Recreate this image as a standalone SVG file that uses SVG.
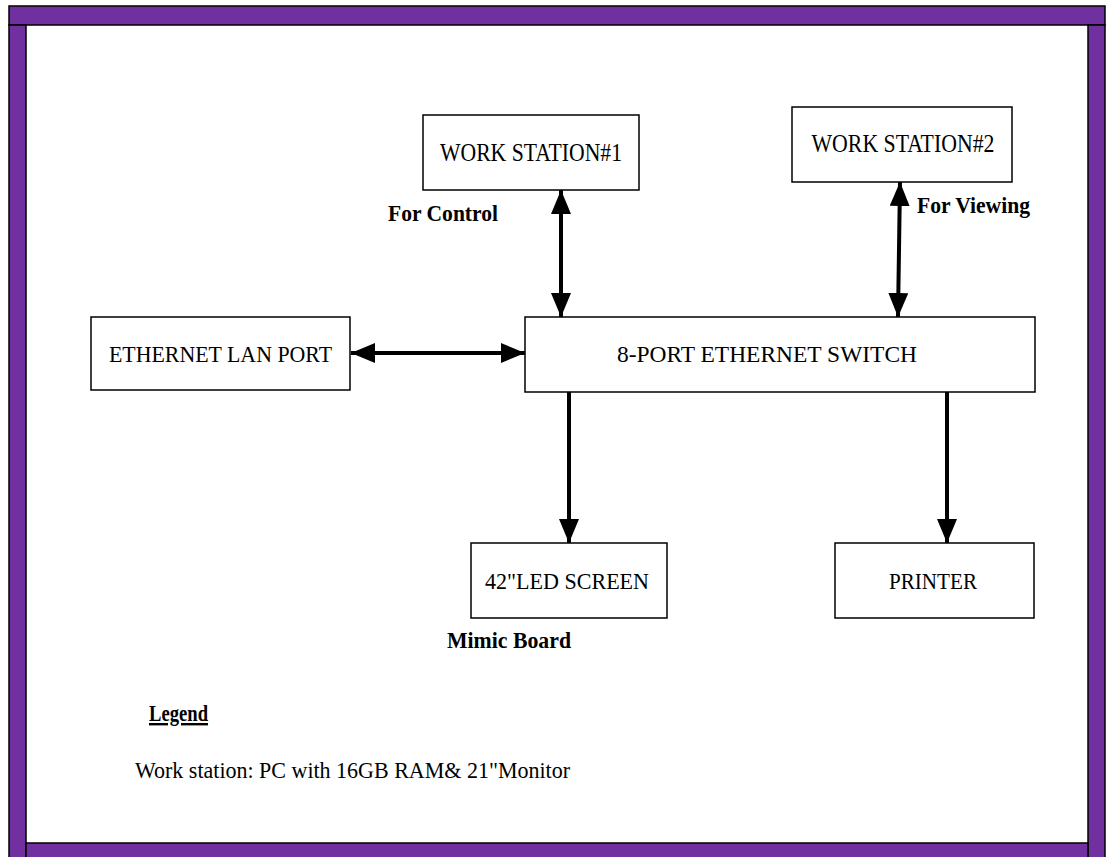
<svg xmlns="http://www.w3.org/2000/svg" width="1111" height="857" viewBox="0 0 1111 857">
  <style>
    .frame { fill: #7030a0; stroke: #000; stroke-width: 1.5; }
    .box { fill: #fff; stroke: #000; stroke-width: 1.5; }
    .label { font-family: "Liberation Serif", "Times New Roman", serif; font-size: 24px; fill: #000; }
    .ws { font-size: 26px; }
    .note { font-family: "Liberation Serif", "Times New Roman", serif; font-size: 24px; font-weight: bold; fill: #000; }
    .link { stroke: #000; stroke-width: 4; fill: none; }
  </style>
  <defs>
    <marker id="head" viewBox="0 0 24 20" refX="24" refY="10" markerWidth="24" markerHeight="20" markerUnits="userSpaceOnUse" orient="auto-start-reverse">
      <path d="M0,0 L24,10 L0,20 Z" fill="#000"/>
    </marker>
  </defs>

  <rect width="1111" height="857" fill="#fff"/>

  <!-- page frame -->
  <g id="frame">
    <rect class="frame" x="9" y="6" width="1096" height="19"/>
    <rect class="frame" x="9" y="25" width="17" height="840"/>
    <rect class="frame" x="1088" y="25" width="17" height="840"/>
    <rect class="frame" x="26" y="843" width="1062" height="20"/>
  </g>

  <!-- connectors -->
  <g id="connectors">
    <line class="link" x1="351" y1="353" x2="525" y2="353" marker-start="url(#head)" marker-end="url(#head)"/>
    <line class="link" x1="561" y1="190" x2="561" y2="317" marker-start="url(#head)" marker-end="url(#head)"/>
    <line class="link" x1="900" y1="182" x2="898" y2="317" marker-start="url(#head)" marker-end="url(#head)"/>
    <line class="link" x1="569" y1="392" x2="569" y2="543" marker-end="url(#head)"/>
    <line class="link" x1="947" y1="392" x2="947" y2="543" marker-end="url(#head)"/>
  </g>

  <g id="ws1">
    <rect class="box" x="423" y="115" width="216" height="75"/>
    <text class="label ws" x="531" y="161" text-anchor="middle" textLength="182" lengthAdjust="spacingAndGlyphs">WORK STATION#1</text>
  </g>
  <g id="ws2">
    <rect class="box" x="792" y="107" width="220" height="75"/>
    <text class="label ws" x="903" y="152" text-anchor="middle" textLength="183" lengthAdjust="spacingAndGlyphs">WORK STATION#2</text>
  </g>
  <g id="lan">
    <rect class="box" x="91" y="317" width="259" height="73"/>
    <text class="label" x="220.5" y="362" text-anchor="middle" textLength="223" lengthAdjust="spacingAndGlyphs">ETHERNET LAN PORT</text>
  </g>
  <g id="switch">
    <rect class="box" x="525" y="317" width="510" height="75"/>
    <text class="label" x="767" y="362" text-anchor="middle" textLength="300" lengthAdjust="spacingAndGlyphs">8-PORT ETHERNET SWITCH</text>
  </g>
  <g id="led">
    <rect class="box" x="471" y="543" width="196" height="75"/>
    <text class="label" x="567" y="589" text-anchor="middle" textLength="164" lengthAdjust="spacingAndGlyphs">42"LED SCREEN</text>
  </g>
  <g id="printer">
    <rect class="box" x="835" y="543" width="199" height="75"/>
    <text class="label" x="933" y="589" text-anchor="middle" textLength="88" lengthAdjust="spacingAndGlyphs">PRINTER</text>
  </g>

  <g id="notes">
    <text class="note" x="388" y="221" textLength="110" lengthAdjust="spacingAndGlyphs">For Control</text>
    <text class="note" x="917" y="213" textLength="113" lengthAdjust="spacingAndGlyphs">For Viewing</text>
    <text class="note" x="447" y="648" textLength="124" lengthAdjust="spacingAndGlyphs">Mimic Board</text>
    <text class="note" x="149" y="721" font-size="21" text-decoration="underline" textLength="59" lengthAdjust="spacingAndGlyphs">Legend</text>
    <text class="label" x="135" y="778" font-size="25" textLength="435" lengthAdjust="spacingAndGlyphs">Work station: PC with 16GB RAM&amp; 21"Monitor</text>
  </g>
</svg>
